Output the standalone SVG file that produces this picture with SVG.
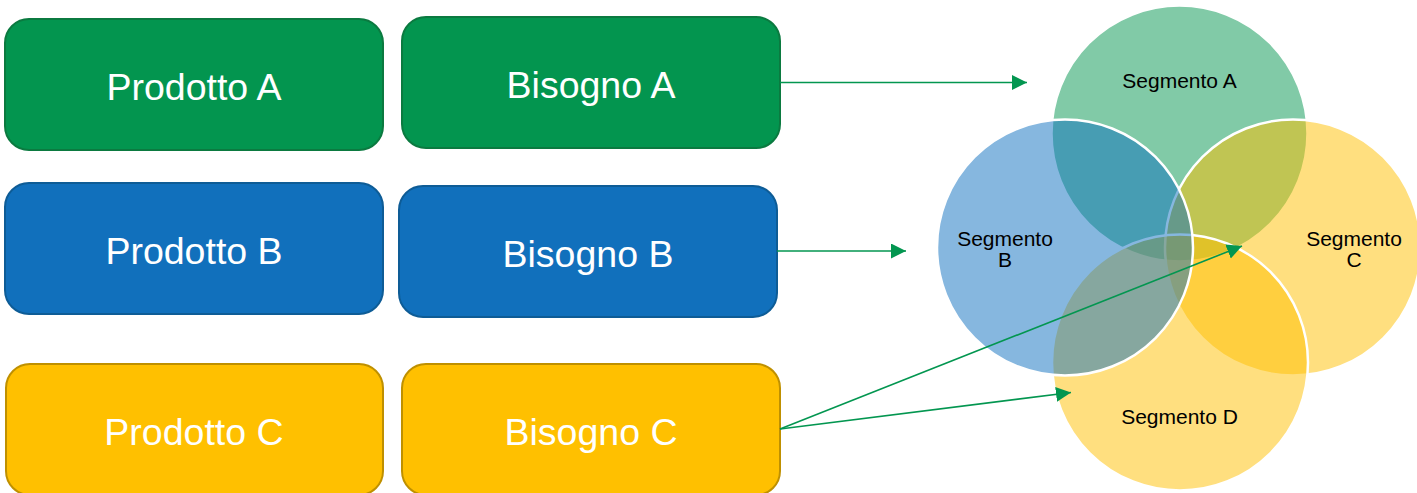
<svg xmlns="http://www.w3.org/2000/svg" width="1417" height="493" viewBox="0 0 1417 493">
  <defs>
    <marker id="arrow" markerUnits="userSpaceOnUse" markerWidth="16" markerHeight="16" refX="15" refY="7.5" orient="auto">
      <path d="M0,0 L15,7.5 L0,15 z" fill="#039650"/>
    </marker>
  </defs>
  <style>
    .box { stroke-width: 2; }
    .green { fill: #03954F; stroke: #0B7A40; }
    .blue { fill: #1170BC; stroke: #0E5C96; }
    .yellow { fill: #FFC000; stroke: #BF9000; }
    .label { font-family: "Liberation Sans", Arial, sans-serif; font-size: 37.5px; fill: #FFFFFF; text-anchor: middle; }
    .seg { fill-opacity: 0.5; stroke: #FFFFFF; stroke-width: 2.5; }
    .seglabel { font-family: "Liberation Sans", Arial, sans-serif; font-size: 21px; fill: #000000; text-anchor: middle; }
    .conn { fill: none; stroke: #039650; stroke-width: 1.6; marker-end: url(#arrow); }
  </style>

  <rect width="1417" height="493" fill="#FFFFFF"/>

  <!-- product / need boxes -->
  <g id="prodotto-a">
    <rect class="box green" x="5" y="19" width="378" height="131" rx="24"/>
    <text class="label" x="194" y="100">Prodotto A</text>
  </g>
  <g id="bisogno-a">
    <rect class="box green" x="402" y="17" width="378" height="131" rx="24"/>
    <text class="label" x="591" y="98">Bisogno A</text>
  </g>
  <g id="prodotto-b">
    <rect class="box blue" x="5" y="183" width="378" height="131" rx="24"/>
    <text class="label" x="194" y="264">Prodotto B</text>
  </g>
  <g id="bisogno-b">
    <rect class="box blue" x="399" y="186" width="378" height="131" rx="24"/>
    <text class="label" x="588" y="267">Bisogno B</text>
  </g>
  <g id="prodotto-c">
    <rect class="box yellow" x="6" y="364" width="377" height="131" rx="24"/>
    <text class="label" x="194" y="445">Prodotto C</text>
  </g>
  <g id="bisogno-c">
    <rect class="box yellow" x="402" y="364" width="378" height="131" rx="24"/>
    <text class="label" x="591" y="445">Bisogno C</text>
  </g>

  <!-- segment circles (drawn A, C, D, B so B sits on top) -->
  <g id="segmento-a">
    <circle class="seg" cx="1179.5" cy="133.5" r="128" fill="#039650"/>
  </g>
  <g id="segmento-c">
    <circle class="seg" cx="1293" cy="247.5" r="128" fill="#FFC000"/>
  </g>
  <g id="segmento-d">
    <circle class="seg" cx="1180" cy="362.5" r="128" fill="#FFC000"/>
  </g>
  <g id="segmento-b">
    <circle class="seg" cx="1065" cy="247.5" r="128" fill="#0E6FBF"/>
  </g>

  <g id="segment-labels">
    <text class="seglabel" x="1179.5" y="88">Segmento A</text>
    <text class="seglabel" x="1005" y="246">Segmento<tspan x="1005" y="266.5">B</tspan></text>
    <text class="seglabel" x="1354" y="246">Segmento<tspan x="1354" y="266.5">C</tspan></text>
    <text class="seglabel" x="1179.5" y="424">Segmento D</text>
  </g>

  <!-- connectors -->
  <g id="connectors">
    <line class="conn" x1="780" y1="82.5" x2="1027" y2="82.5"/>
    <line class="conn" x1="777" y1="251" x2="906" y2="251"/>
    <line class="conn" x1="780" y1="429" x2="1071" y2="392.5"/>
    <line class="conn" x1="780" y1="429" x2="1242" y2="246"/>
  </g>
</svg>
